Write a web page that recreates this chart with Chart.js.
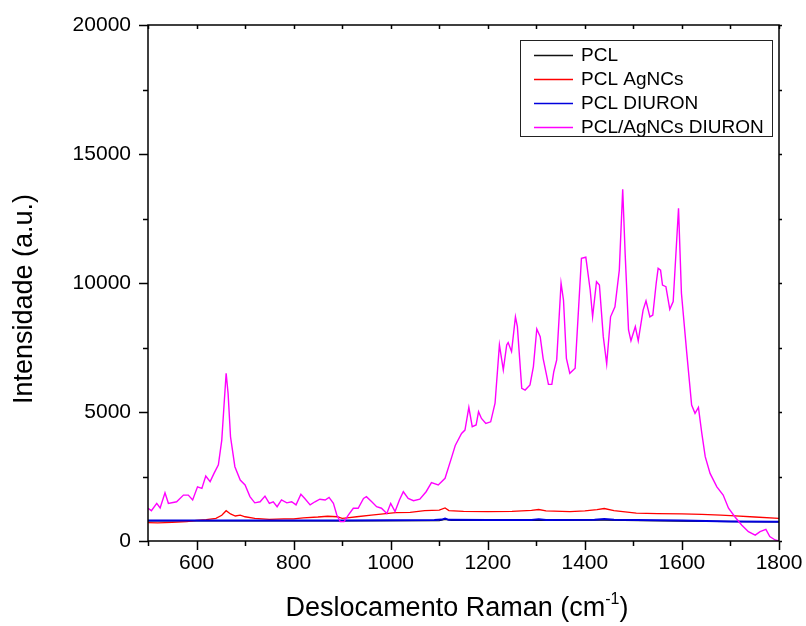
<!DOCTYPE html>
<html>
<head>
<meta charset="utf-8">
<script src="https://cdn.jsdelivr.net/npm/chart.js@4.4.1/dist/chart.umd.min.js"></script>
<style>
  html,body{margin:0;padding:0;background:#fff;}
  canvas{display:block;}
</style>
</head>
<body>
<canvas id="c" width="806" height="626"></canvas>
<script>
/* ===== 拉曼光譜：數據 ===== */
const SERIES_NAMES = ['PCL', 'PCL AgNCs', 'PCL DIURON', 'PCL/AgNCs DIURON'];
const SERIES_COLORS = ['#111111', '#ff0000', '#0000dd', '#ff00ff'];

const X_TICKS = [600, 800, 1000, 1200, 1400, 1600, 1800];
const Y_TICKS = [0, 5000, 10000, 15000, 20000];

// PCL (preto, quase escondido sob o azul)
const pclX = [500, 700, 900, 1100, 1112, 1125, 1300, 1440, 1600, 1800];
const pclY = [775, 775, 780, 790, 840, 795, 800, 810, 770, 740];

// PCL AgNCs (vermelho)
const agX = [500, 520, 550, 580, 600, 620, 640, 652, 661, 670, 680, 690, 700, 720, 750, 780, 800, 820, 850,
  870, 890, 900, 910, 930, 960, 990, 1010, 1040, 1070, 1100, 1112, 1120, 1150, 1200, 1250, 1290, 1305, 1320,
  1369, 1400, 1425, 1440, 1460, 1506, 1550, 1600, 1641, 1680, 1710, 1750, 1800];
const agY = [710, 700, 720, 750, 800, 830, 880, 1000, 1175, 1050, 970, 1000, 940, 880, 840, 860, 860, 900, 930,
  960, 940, 880, 900, 940, 1000, 1060, 1100, 1110, 1180, 1200, 1280, 1180, 1150, 1140, 1150, 1190, 1220, 1170,
  1140, 1170, 1220, 1260, 1180, 1080, 1060, 1050, 1030, 1000, 970, 930, 880];

// PCL DIURON (azul)
const diX = [500, 600, 700, 800, 900, 1000, 1090, 1105, 1112, 1120, 1200, 1290, 1305, 1320, 1420, 1440, 1460, 1600, 1700, 1800];
const diY = [790, 790, 790, 790, 790, 800, 810, 830, 870, 820, 810, 815, 840, 810, 820, 850, 820, 790, 760, 750];

// PCL/AgNCs DIURON (magenta)
const magX = [500, 507, 518, 525, 535, 542, 559, 573, 583, 592, 602, 611, 619, 628, 636, 645, 652, 656, 661, 665,
  670, 679, 690, 700, 710, 720, 731, 741, 750, 758, 766, 775, 786, 796, 805, 815, 823, 834, 844, 854, 865, 873,
  882, 889, 896, 904, 913, 923, 933, 944, 950, 961, 971, 981, 992, 1000, 1009, 1018, 1026, 1036, 1047, 1060,
  1073, 1084, 1098, 1112, 1126, 1133, 1146, 1153, 1161, 1168, 1176, 1181, 1187, 1196, 1206, 1215, 1224, 1232,
  1239, 1242, 1249, 1257, 1261, 1270, 1277, 1287, 1294, 1301, 1308, 1314, 1325, 1332, 1336, 1342, 1351, 1356,
  1362, 1369, 1380, 1393, 1402, 1411, 1416, 1424, 1430, 1438, 1445, 1453, 1462, 1471, 1478, 1483, 1490, 1495,
  1504, 1510, 1520, 1526, 1534, 1540, 1547, 1551, 1556, 1560, 1567, 1575, 1582, 1593, 1599, 1610, 1620, 1627,
  1634, 1641, 1648, 1658, 1672, 1685, 1696, 1709, 1723, 1737, 1751, 1761, 1773, 1781, 1792, 1800];
const magY = [1270, 1175, 1460, 1280, 1870, 1460, 1520, 1780, 1780, 1590, 2100, 2040, 2520, 2300, 2620, 2950, 3910, 5080, 6500, 5720,
  4040, 2880, 2360, 2170, 1720, 1480, 1520, 1740, 1460, 1520, 1330, 1590, 1480, 1520, 1400, 1810, 1650, 1400, 1520, 1620, 1590, 1690,
  1460, 1010, 750, 750, 1010, 1270, 1270, 1650, 1720, 1520, 1330, 1270, 1070, 1460, 1140, 1590, 1910, 1650, 1560, 1620,
  1910, 2260, 2170, 2430, 3270, 3700, 4170, 4300, 5180, 4430, 4500, 5010, 4750, 4560, 4620, 5340, 7600, 6630,
  7600, 7690, 7340, 8690, 8310, 5920, 5850, 6050, 6760, 8220, 7920, 7080, 6070, 6070, 6560, 7020, 9990, 9340,
  7080, 6500, 6700, 10960, 11000, 9730, 8690, 10050, 9920, 7920, 6860, 8690, 9080, 10500, 13630, 11150, 8180, 7760,
  8310, 7760, 8950, 9310, 8690, 8760, 9990, 10570, 10500, 9920, 9860, 8980, 9280, 12900, 9600, 7280, 5270, 4950,
  5180, 4170, 3270, 2620, 2100, 1780, 1270, 940, 620, 360, 230, 360, 450, 170, 40, 0];

const pts = (xs, ys) => xs.map((x, i) => ({x, y: ys[i]}));

const FONT = '"Liberation Sans", Arial, Helvetica, sans-serif';

/* ===== 坐標框、刻度、標題、圖例 ===== */
const frame = {
  id: 'frame',
  afterDraw(c) {
    const {ctx, chartArea: {left, right, top, bottom}} = c;
    const sx = c.scales.x, sy = c.scales.y;
    ctx.save();
    ctx.strokeStyle = '#000';
    ctx.fillStyle = '#000';
    ctx.lineWidth = 1.5;
    ctx.strokeRect(left, top, right - left, bottom - top);

    // ticks
    ctx.lineWidth = 1.5;
    ctx.beginPath();
    for (let v = 500; v <= 1800; v += 100) {
      const px = Math.round(sx.getPixelForValue(v)) + 0.5;
      const major = v % 200 === 0;
      ctx.moveTo(px, bottom); ctx.lineTo(px, bottom + (major ? 9 : 5));
      ctx.moveTo(px, top); ctx.lineTo(px, top + 4);
    }
    for (let v = 0; v <= 20000; v += 2500) {
      const py = Math.round(sy.getPixelForValue(v)) + 0.5;
      const major = v % 5000 === 0;
      ctx.moveTo(left, py); ctx.lineTo(left - (major ? 9 : 5), py);
      ctx.moveTo(right, py); ctx.lineTo(right + 3, py);
    }
    ctx.stroke();

    // tick labels
    ctx.font = '21px ' + FONT;
    ctx.textAlign = 'center'; ctx.textBaseline = 'top';
    X_TICKS.forEach(v => ctx.fillText(String(v), sx.getPixelForValue(v), bottom + 12));
    ctx.textAlign = 'right'; ctx.textBaseline = 'middle';
    Y_TICKS.forEach(v => ctx.fillText(String(v), left - 17, sy.getPixelForValue(v)));

    // axis titles
    ctx.font = '27px ' + FONT;
    ctx.textBaseline = 'alphabetic';
    const t1 = 'Deslocamento Raman (cm', sup = '-1', t2 = ')';
    const w1 = ctx.measureText(t1).width, w2 = ctx.measureText(t2).width;
    ctx.font = '16px ' + FONT;
    const ws = ctx.measureText(sup).width;
    let x0 = 457 - (w1 + ws + w2) / 2;
    const by = 616;
    ctx.textAlign = 'left';
    ctx.font = '27px ' + FONT;
    ctx.fillText(t1, x0, by);
    ctx.font = '16px ' + FONT;
    ctx.fillText(sup, x0 + w1, by - 12);
    ctx.font = '27px ' + FONT;
    ctx.fillText(t2, x0 + w1 + ws, by);

    ctx.save();
    ctx.translate(25, 299);
    ctx.rotate(-Math.PI / 2);
    ctx.textAlign = 'center'; ctx.textBaseline = 'middle';
    ctx.fillText('Intensidade (a.u.)', 0, 0);
    ctx.restore();

    // legend
    ctx.lineWidth = 1;
    ctx.strokeStyle = '#222';
    ctx.strokeRect(520.5, 40.5, 252, 96);
    ctx.font = '19px ' + FONT;
    ctx.textAlign = 'left'; ctx.textBaseline = 'middle';
    SERIES_NAMES.forEach((name, i) => {
      const y = 55 + i * 24;
      ctx.strokeStyle = SERIES_COLORS[i];
      ctx.lineWidth = 1.3;
      ctx.beginPath(); ctx.moveTo(534, y + 0.5); ctx.lineTo(573, y + 0.5); ctx.stroke();
      ctx.fillStyle = '#000';
      ctx.fillText(name, 581, y + 1);
    });
    ctx.restore();
  }
};

const mkLine = (label, d, col, w, order) => ({
  label, data: d, borderColor: col, borderWidth: w, pointRadius: 0, tension: 0, order
});

new Chart(document.getElementById('c'), {
  type: 'line',
  data: {
    datasets: [
      mkLine(SERIES_NAMES[0], pts(pclX, pclY), SERIES_COLORS[0], 1.2, 4),
      mkLine(SERIES_NAMES[1], pts(agX, agY), SERIES_COLORS[1], 1.3, 3),
      mkLine(SERIES_NAMES[2], pts(diX, diY), SERIES_COLORS[2], 2, 2),
      mkLine(SERIES_NAMES[3], pts(magX, magY), SERIES_COLORS[3], 1.4, 1)
    ]
  },
  options: {
    responsive: false,
    devicePixelRatio: 1,
    animation: false,
    layout: {padding: {left: 148, right: 27, top: 25, bottom: 85}},
    plugins: {legend: {display: false}, tooltip: {enabled: false}},
    scales: {
      x: {type: 'linear', min: 500, max: 1800, display: false},
      y: {type: 'linear', min: 0, max: 20000, display: false}
    }
  },
  plugins: [frame]
});
</script>
</body>
</html>
